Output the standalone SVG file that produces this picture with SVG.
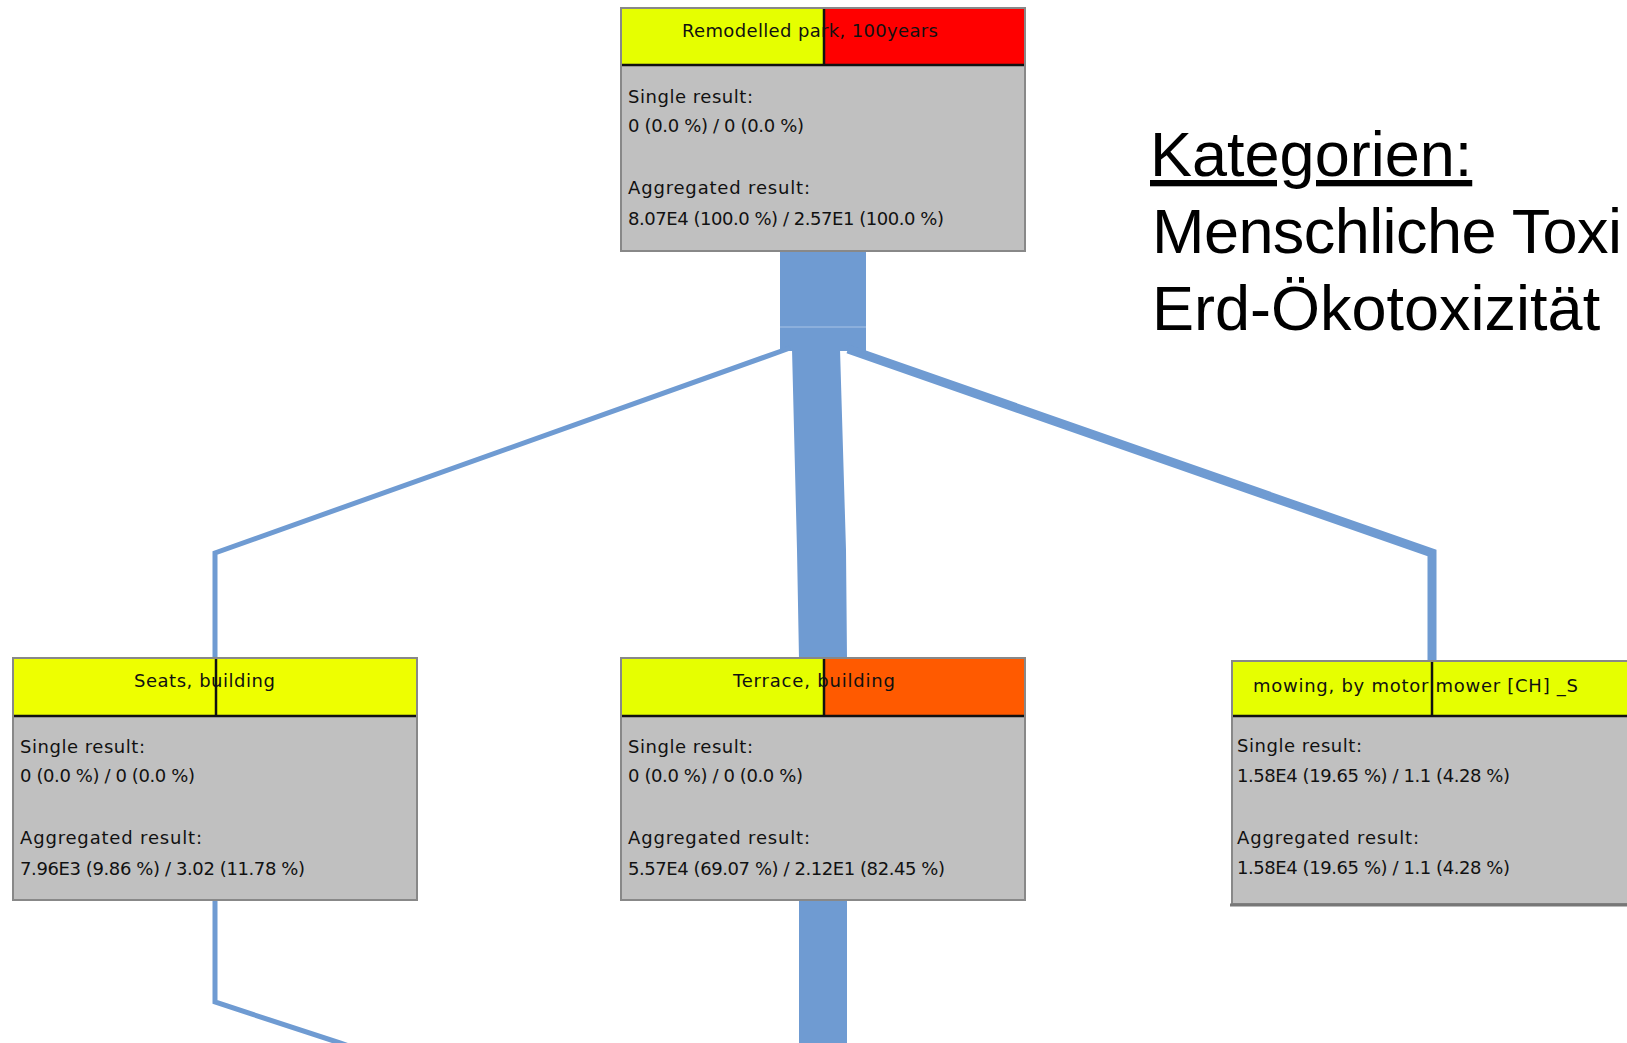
<svg xmlns="http://www.w3.org/2000/svg" width="1627" height="1043" viewBox="0 0 1627 1043">
<style>
.body{fill:#c0c0c0;stroke:#888;stroke-width:2}
.sep{stroke:#111;stroke-width:2.5}
.t{font-family:"DejaVu Sans","Liberation Sans",sans-serif;font-size:18px;fill:#111}
.conn{fill:none;stroke:#6f9bd2;stroke-linejoin:miter}
.big{font-family:"Liberation Sans",Arial,sans-serif;font-size:63px;fill:#000}
</style>
<rect width="1627" height="1043" fill="#fff"/>
<g id="connectors">
<rect x="780" y="251" width="86" height="100" fill="#6f9bd2"/>
<line x1="780" y1="327" x2="866" y2="327" stroke="#a9c3e6" stroke-width="1"/>
<polygon points="792,349 840,349 846,550 847,659 799,659 797,550" fill="#6f9bd2"/>
<polyline class="conn" stroke-width="5" points="790,348 215,553 215,659"/>
<polyline class="conn" stroke-width="9" points="848,349 1432,553 1432,662"/>
<polyline class="conn" stroke-width="5" points="215,899 215,1002 340,1043 400,1063"/>
<rect x="799" y="899" width="48" height="150" fill="#6f9bd2"/>
</g>
<g id="node-remodelled-park">
<rect class="body" x="621" y="8" width="404" height="243"/>
<rect x="622" y="9" width="202" height="56" fill="#e6ff00"/>
<rect x="824" y="9" width="200" height="56" fill="#ff0000"/>
<line class="sep" x1="622" y1="65" x2="1024" y2="65"/>
<line class="sep" x1="824" y1="9" x2="824" y2="65"/>
<text class="t" x="682" y="37" textLength="256">Remodelled park, 100years</text>
<text class="t" x="628" y="103" textLength="125">Single result:</text>
<text class="t" x="628" y="132" textLength="176">0 (0.0 %) / 0 (0.0 %)</text>
<text class="t" x="628" y="194" textLength="182">Aggregated result:</text>
<text class="t" x="628" y="225" textLength="316">8.07E4 (100.0 %) / 2.57E1 (100.0 %)</text>
</g>
<g id="node-seats">
<rect class="body" x="13" y="658" width="404" height="242"/>
<rect x="14" y="659" width="402" height="57" fill="#eeff00"/>
<line class="sep" x1="14" y1="716" x2="416" y2="716"/>
<line class="sep" x1="216" y1="659" x2="216" y2="716"/>
<text class="t" x="134" y="687" textLength="141">Seats, building</text>
<text class="t" x="20" y="753" textLength="125">Single result:</text>
<text class="t" x="20" y="782" textLength="175">0 (0.0 %) / 0 (0.0 %)</text>
<text class="t" x="20" y="844" textLength="182">Aggregated result:</text>
<text class="t" x="20" y="875" textLength="285">7.96E3 (9.86 %) / 3.02 (11.78 %)</text>
</g>
<g id="node-terrace">
<rect class="body" x="621" y="658" width="404" height="242"/>
<rect x="622" y="659" width="202" height="57" fill="#e6ff00"/>
<rect x="824" y="659" width="200" height="57" fill="#ff5a00"/>
<line class="sep" x1="622" y1="716" x2="1024" y2="716"/>
<line class="sep" x1="824" y1="659" x2="824" y2="716"/>
<text class="t" x="733" y="687" textLength="162">Terrace, building</text>
<text class="t" x="628" y="753" textLength="125">Single result:</text>
<text class="t" x="628" y="782" textLength="175">0 (0.0 %) / 0 (0.0 %)</text>
<text class="t" x="628" y="844" textLength="182">Aggregated result:</text>
<text class="t" x="628" y="875" textLength="317">5.57E4 (69.07 %) / 2.12E1 (82.45 %)</text>
</g>
<g id="node-mowing">
<rect class="body" x="1232" y="661" width="420" height="243"/>
<rect x="1233" y="662" width="420" height="54" fill="#e6ff00"/>
<line class="sep" x1="1233" y1="716" x2="1627" y2="716"/>
<line class="sep" x1="1432" y1="662" x2="1432" y2="716"/>
<line x1="1230" y1="905" x2="1627" y2="905" stroke="#777" stroke-width="3"/>
<text class="t" x="1253" y="692" textLength="325">mowing, by motor mower [CH] _S</text>
<text class="t" x="1237" y="752" textLength="125">Single result:</text>
<text class="t" x="1237" y="782" textLength="273">1.58E4 (19.65 %) / 1.1 (4.28 %)</text>
<text class="t" x="1237" y="844" textLength="182">Aggregated result:</text>
<text class="t" x="1237" y="874" textLength="273">1.58E4 (19.65 %) / 1.1 (4.28 %)</text>
</g>
<g id="legend">
<text class="big" x="1150" y="176" text-decoration="underline">Kategorien:</text>
<text class="big" x="1152" y="253" textLength="470">Menschliche Toxi</text>
<text class="big" x="1152" y="330">Erd-Ökotoxizität</text>
</g>
</svg>
